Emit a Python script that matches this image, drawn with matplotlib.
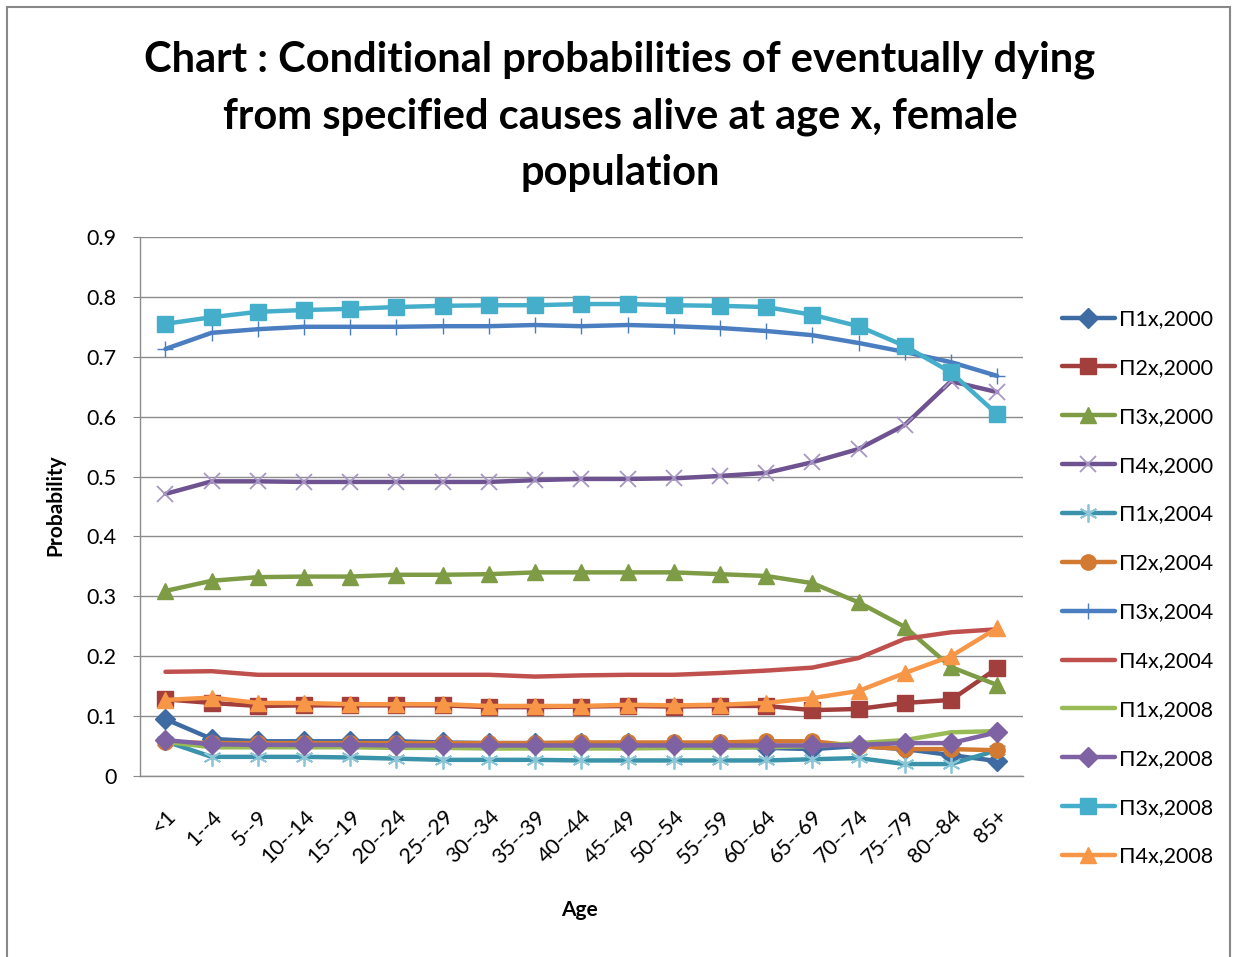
import matplotlib
matplotlib.use("Agg")
import matplotlib.pyplot as plt
from matplotlib.patches import Rectangle

ages = ["<1", "1--4", "5--9", "10--14", "15--19", "20--24", "25--29", "30--34", "35--39",
        "40--44", "45--49", "50--54", "55--59", "60--64", "65--69", "70--74", "75--79",
        "80--84", "85+"]

p1_2000 = [0.095, 0.062, 0.058, 0.058, 0.058, 0.058, 0.056, 0.055, 0.055, 0.055, 0.055,
           0.054, 0.053, 0.047, 0.045, 0.050, 0.045, 0.035, 0.025]
p2_2000 = [0.128, 0.122, 0.117, 0.118, 0.118, 0.118, 0.118, 0.115, 0.115, 0.116, 0.117,
           0.116, 0.117, 0.117, 0.110, 0.112, 0.122, 0.127, 0.180]
p3_2000 = [0.309, 0.326, 0.332, 0.333, 0.333, 0.336, 0.336, 0.337, 0.340, 0.340, 0.340,
           0.340, 0.337, 0.334, 0.322, 0.290, 0.249, 0.182, 0.152]
p4_2000 = [0.471, 0.492, 0.492, 0.491, 0.491, 0.491, 0.491, 0.491, 0.494, 0.496, 0.496,
           0.497, 0.501, 0.506, 0.524, 0.546, 0.586, 0.659, 0.641]
p1_2004 = [0.058, 0.032, 0.032, 0.032, 0.031, 0.029, 0.027, 0.027, 0.027, 0.026, 0.026,
           0.026, 0.026, 0.026, 0.028, 0.030, 0.020, 0.020, 0.043]
p2_2004 = [0.057, 0.055, 0.055, 0.055, 0.055, 0.055, 0.055, 0.055, 0.055, 0.056, 0.056,
           0.056, 0.056, 0.058, 0.058, 0.050, 0.045, 0.045, 0.043]
p3_2004 = [0.713, 0.740, 0.746, 0.750, 0.750, 0.750, 0.751, 0.751, 0.753, 0.751, 0.753,
           0.751, 0.748, 0.743, 0.736, 0.723, 0.708, 0.691, 0.668]
p4_2004 = [0.174, 0.175, 0.169, 0.169, 0.169, 0.169, 0.169, 0.169, 0.166, 0.168, 0.169,
           0.169, 0.172, 0.176, 0.181, 0.197, 0.229, 0.240, 0.245]
p1_2008 = [0.057, 0.048, 0.048, 0.048, 0.048, 0.047, 0.047, 0.046, 0.046, 0.046, 0.046,
           0.047, 0.047, 0.048, 0.050, 0.055, 0.060, 0.073, 0.075]
p2_2008 = [0.060, 0.053, 0.052, 0.052, 0.052, 0.051, 0.051, 0.051, 0.051, 0.051, 0.051,
           0.051, 0.051, 0.051, 0.051, 0.052, 0.055, 0.055, 0.073]
p3_2008 = [0.755, 0.766, 0.775, 0.778, 0.780, 0.783, 0.785, 0.786, 0.786, 0.788, 0.788,
           0.786, 0.785, 0.783, 0.770, 0.751, 0.718, 0.674, 0.604]
p4_2008 = [0.127, 0.131, 0.122, 0.122, 0.120, 0.120, 0.120, 0.117, 0.117, 0.117, 0.119,
           0.118, 0.119, 0.122, 0.130, 0.142, 0.172, 0.200, 0.247]

series = [
    ("Π1x,2000", p1_2000, "#3F6BA3", "D", 10, None),
    ("Π2x,2000", p2_2000, "#A23E3B", "s", 11, None),
    ("Π3x,2000", p3_2000, "#7E9C45", "^", 12, None),
    ("Π4x,2000", p4_2000, "#6E5390", "x", 11, "#A896C4"),
    ("Π1x,2004", p1_2004, "#3A93AB", (6, 2, 0), 13, "#8CC5D6"),
    ("Π2x,2004", p2_2004, "#D27A32", "o", 11, None),
    ("Π3x,2004", p3_2004, "#4A7EC0", "+", 11, None),
    ("Π4x,2004", p4_2004, "#C0504D", None, 0, None),
    ("Π1x,2008", p1_2008, "#98BB55", None, 0, None),
    ("Π2x,2008", p2_2008, "#7F62A3", "D", 10, None),
    ("Π3x,2008", p3_2008, "#45AFCB", "s", 12, None),
    ("Π4x,2008", p4_2008, "#F79646", "^", 12, None),
]

plt.rcParams['font.family'] = ['Lato', 'DejaVu Sans']
fig = plt.figure(figsize=(12.35, 9.57), dpi=100)
ax = fig.add_axes([0.1134, 0.1891, 0.7146, 0.5633])

x = list(range(len(ages)))
for name, vals, col, mk, ms, mec in series:
    kw = dict(color=col, lw=3.2, label=name, solid_capstyle='round', solid_joinstyle='round')
    if mk is not None:
        kw.update(marker=mk, markersize=ms, markerfacecolor=col,
                  markeredgecolor=mec if mec else col,
                  markeredgewidth=1.3 if mec else 1.0)
    ax.plot(x, vals, **kw)

ax.set_xlim(-0.55, len(ages) - 0.45)
ax.set_ylim(0, 0.9)
ax.set_yticks([i / 10 for i in range(10)])
ax.set_yticklabels(["0"] + [f"{i/10:.1f}" for i in range(1, 10)], fontsize=15.5)
ax.set_xticks(x)
ax.set_xticklabels(ages, rotation=45, ha='right', va='top', rotation_mode='anchor', fontsize=15.5)
ax.tick_params(axis='x', length=0, pad=22)
ax.tick_params(axis='y', length=5, color='#888888', pad=12)
ax.yaxis.grid(True, color='#8C8C8C', lw=1.0)
ax.set_axisbelow(True)
for s in ['top', 'right']:
    ax.spines[s].set_visible(False)
for s in ['left', 'bottom']:
    ax.spines[s].set_color('#8C8C8C')
    ax.spines[s].set_linewidth(1.0)

ax.set_ylabel("Probability", fontsize=15, fontweight='bold')
ax.yaxis.set_label_coords(-0.096, 0.503)
ax.yaxis.label.set_va('center')
ax.set_xlabel("Age", fontsize=15, fontweight='bold')
ax.xaxis.set_label_coords(0.498, -0.249)
ax.xaxis.label.set_va('center')

fig.text(0.502, 0.958, "Chart : Conditional probabilities of eventually dying\nfrom specified causes alive at age x, female\npopulation",
         ha='center', va='top', fontsize=30, fontweight='bold', linespacing=1.6)

leg = ax.legend(loc='upper left', bbox_to_anchor=(1.035, 0.882), frameon=False,
                fontsize=15.5, labelspacing=1.34, handlelength=2.45, handletextpad=0.2,
                borderaxespad=0)

fig.patches.append(Rectangle((0.006, -0.01), 0.99, 1.003, transform=fig.transFigure,
                             fill=False, edgecolor='#888888', lw=1.5))

fig.savefig("out.png", dpi=100)
